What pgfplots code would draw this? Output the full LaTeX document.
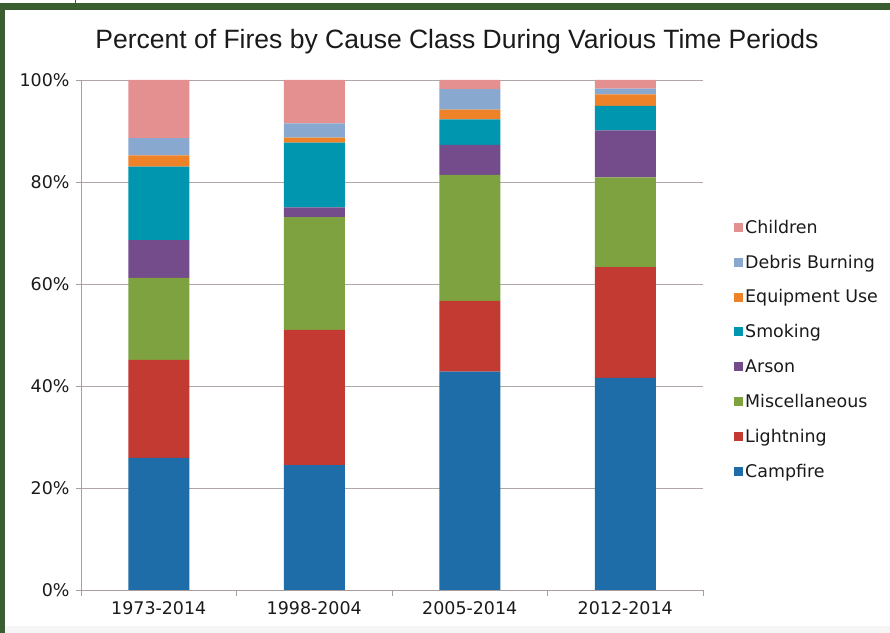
\documentclass[border=0pt]{standalone}
\usepackage{pgfplots}
\pgfplotsset{compat=1.18}
\usepackage{pgfplotstable}
\usepackage{fontspec}
\setmainfont{DejaVu Sans}
\newfontfamily\titlefont{Liberation Sans}
\definecolor{frameg}{HTML}{3A5E2F}
\definecolor{cCamp}{HTML}{1E6CA8}
\definecolor{cLight}{HTML}{C33A33}
\definecolor{cMisc}{HTML}{7DA23F}
\definecolor{cArson}{HTML}{744C8C}
\definecolor{cSmok}{HTML}{0096B0}
\definecolor{cEquip}{HTML}{EE8228}
\definecolor{cDebris}{HTML}{88A8D0}
\definecolor{cChild}{HTML}{E59090}
\definecolor{axgray}{HTML}{A89C9C}
\definecolor{txt}{HTML}{1A1A1A}

\pgfplotstableread{
x campfire lightning misc arson smoking equip debris children
0 25.9 19.2 16.1 7.4 14.4 2.2 3.4 11.4
1 24.5 26.5 22.1 1.9 12.7 1.0 2.8 8.5
2 42.8 13.9 24.7 5.9 5.0 1.9 4.0 1.8
3 41.6 21.7 17.6 9.2 4.8 2.3 1.1 1.7
}\datatable

\begin{document}
\begin{tikzpicture}[x=1bp,y=1bp]
\fill[frameg] (0,0) rectangle (890,633);
\fill[white] (5,0) rectangle (890,623);
\fill[white] (0,630) rectangle (890,633);
\fill[black!4] (5,0) rectangle (890,7);
\draw[black!70, line width=0.8bp] (75,623) -- (75,633);
\begin{axis}[
  at={(81bp,43bp)}, anchor=south west,
  width=622bp, height=510bp, scale only axis,
  ybar stacked, bar width=61bp,
  xmin=-0.5, xmax=3.5, ymin=0, ymax=100,
  xtick={0,1,2,3},
  xticklabels={1973-2014,1998-2004,2005-2014,2012-2014},
  ytick={0,20,40,60,80,100},
  yticklabels={0\%,20\%,40\%,60\%,80\%,100\%},
  minor xtick={-0.5,0.5,1.5,2.5,3.5},
  xtick style={draw=none},
  minor x tick style={draw=axgray, line width=0.8bp},
  y tick style={draw=axgray, line width=0.8bp},
  tick align=outside, major tick length=5bp, minor tick length=6bp,
  axis x line*=bottom, axis y line*=left,
  axis line style={draw=axgray, line width=0.8bp},
  ymajorgrids, major grid style={draw=axgray!90, line width=0.8bp},
  separate axis lines,
  x axis line style={-}, y axis line style={-},
  tick label style={font=\fontsize{17.5}{21}\selectfont, text=txt},
  xticklabel style={yshift=-3bp},
  yticklabel style={xshift=-3bp},
  legend style={at={(1.045,0.734)}, anchor=north west, draw=none, fill=none,
    font=\fontsize{17.5}{21}\selectfont, text=txt, row sep=16.2bp,
    /tikz/every even column/.append style={column sep=0bp}},
  legend cell align=left,
  reverse legend,
  legend image code/.code={\fill[#1] (0bp,-4.5bp) rectangle (9bp,4.5bp);},
]
\addplot[fill=cCamp, draw=none] table[x=x,y=campfire]{\datatable};
\addlegendentry{Campfire}
\addplot[fill=cLight, draw=none] table[x=x,y=lightning]{\datatable};
\addlegendentry{Lightning}
\addplot[fill=cMisc, draw=none] table[x=x,y=misc]{\datatable};
\addlegendentry{Miscellaneous}
\addplot[fill=cArson, draw=none] table[x=x,y=arson]{\datatable};
\addlegendentry{Arson}
\addplot[fill=cSmok, draw=none] table[x=x,y=smoking]{\datatable};
\addlegendentry{Smoking}
\addplot[fill=cEquip, draw=none] table[x=x,y=equip]{\datatable};
\addlegendentry{Equipment Use}
\addplot[fill=cDebris, draw=none] table[x=x,y=debris]{\datatable};
\addlegendentry{Debris Burning}
\addplot[fill=cChild, draw=none] table[x=x,y=children]{\datatable};
\addlegendentry{Children}
\end{axis}
\node[font=\titlefont\fontsize{26.6}{32}\selectfont, text=txt] at (457,591) {Percent of Fires by Cause Class During Various Time Periods};
\pgfresetboundingbox
\path[use as bounding box] (0,0) rectangle (890,633);
\end{tikzpicture}
\end{document}
